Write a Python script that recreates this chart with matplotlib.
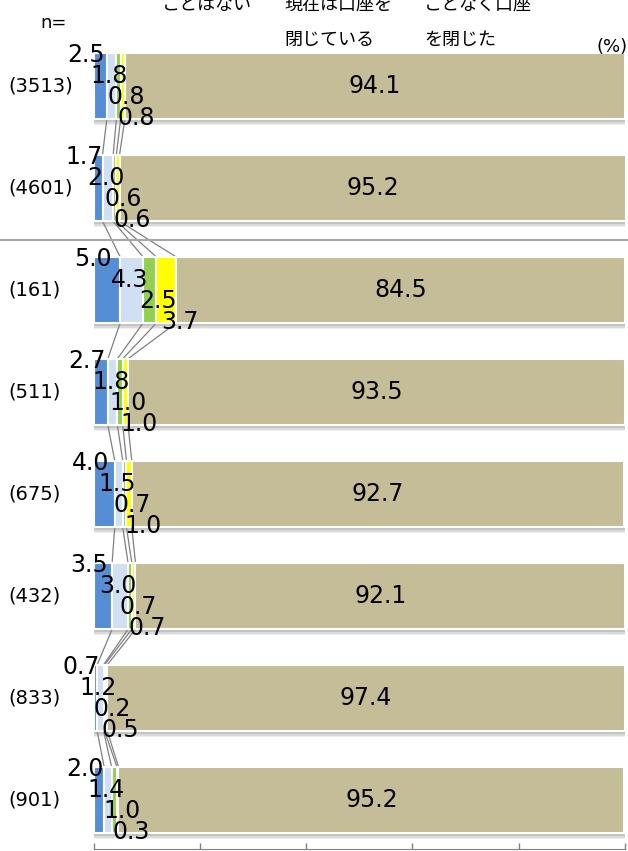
import matplotlib
matplotlib.use("Agg")
import matplotlib.pyplot as plt
import matplotlib.transforms as mtransforms
from matplotlib.lines import Line2D
import numpy as np

n_labels = ['(3513)', '(4601)', '(161)', '(511)', '(675)', '(432)', '(833)', '(901)']
s_blue = [2.5, 1.7, 5.0, 2.7, 4.0, 3.5, 0.7, 2.0]
s_light = [1.8, 2.0, 4.3, 1.8, 1.5, 3.0, 1.2, 1.4]
s_green = [0.8, 0.6, 2.5, 1.0, 0.7, 0.7, 0.2, 1.0]
s_yellow = [0.8, 0.6, 3.7, 1.0, 1.0, 0.7, 0.5, 0.3]
s_khaki = [94.1, 95.2, 84.5, 93.5, 92.7, 92.1, 97.4, 95.2]

headers = [
    ('ことはない', 162, 5),
    ('現在は口座を', 284, 5),
    ('閉じている', 284, 40),
    ('ことなく口座', 424, 5),
    ('を閉じた', 424, 40),
]

colors = ['#558ED5', '#D0DFF2', '#92D050', '#FFFF00', '#C4BD97']
series = [s_blue, s_light, s_green, s_yellow, s_khaki]

W, H = 628, 851
fig = plt.figure(figsize=(W / 100, H / 100), dpi=100)
ax = fig.add_axes([93.5 / W, 2 / H, 531.5 / W, 849 / H])

ypos = np.arange(len(n_labels))
h = 0.652

# soft shadow under the bars
for off, a in [(0.06, 0.12), (0.045, 0.18), (0.03, 0.25)]:
    ax.barh(ypos + off, 100, height=h, left=0, color='#808080', alpha=a,
            linewidth=0, zorder=1)

left = np.zeros(len(n_labels))
cums = []
for vals, c in zip(series, colors):
    vals = np.array(vals)
    ax.barh(ypos, vals, height=h, left=left, color=c, edgecolor='white',
            linewidth=1.5, zorder=2)
    left = left + vals
    cums.append(left.copy())

# series lines between bars
for k in range(4):
    cum = cums[k]
    for i in range(len(n_labels) - 1):
        ax.plot([cum[i], cum[i + 1]], [ypos[i] + h / 2, ypos[i + 1] - h / 2],
                color='#808080', lw=0.9, zorder=1.5)

# data labels
dxs = [-14, -2, 8, 14]
dys = [-31, -10, 11, 32]
start = np.zeros(len(n_labels))
for k, vals in enumerate(series):
    for i, v in enumerate(vals):
        cx = start[i] + v / 2
        if k < 4:
            ax.annotate(f'{v:.1f}', (cx, ypos[i]), xytext=(dxs[k], -dys[k]),
                        textcoords='offset pixels', ha='center', va='center',
                        fontsize=17, color='black', zorder=5, annotation_clip=False)
        else:
            ax.text(cx, ypos[i], f'{v:.1f}', ha='center', va='center',
                    fontsize=17, color='black', zorder=5)
    start = start + np.array(vals)

ax.set_xlim(0, 100)
ax.set_ylim(7 + (849 - 800) / 102, -86 / 102)
ax.set_xticks([0, 20, 40, 60, 80, 100])
ax.set_xticklabels([])
ax.set_yticks([])
ax.tick_params(axis='x', direction='in', length=4.5, color='#808080', width=1)
for sp in ['top', 'right', 'left']:
    ax.spines[sp].set_visible(False)
ax.spines['bottom'].set_color('#808080')
ax.patch.set_alpha(0)

# n labels
tr = mtransforms.blended_transform_factory(fig.transFigure, ax.transData)
for i, lab in enumerate(n_labels):
    ax.text(8 / W, ypos[i], lab, transform=tr, ha='left', va='center',
            fontsize=14, color='black', clip_on=False)

# separator line
fig.add_artist(Line2D([0, 1], [1 - 240 / H, 1 - 240 / H], color='#A6A6A6', lw=1.5))

jp = ['Noto Sans CJK JP', 'DejaVu Sans']
for txt, x, y in headers:
    fig.text(x / W, 1 - y / H, txt, ha='left', va='center', fontsize=13,
             family=jp)
fig.text(40 / W, 1 - 23 / H, 'n=', ha='left', va='center', fontsize=13)
fig.text(596 / W, 1 - 47 / H, '(%)', ha='left', va='center', fontsize=13)

fig.savefig('out.png', dpi=100)
